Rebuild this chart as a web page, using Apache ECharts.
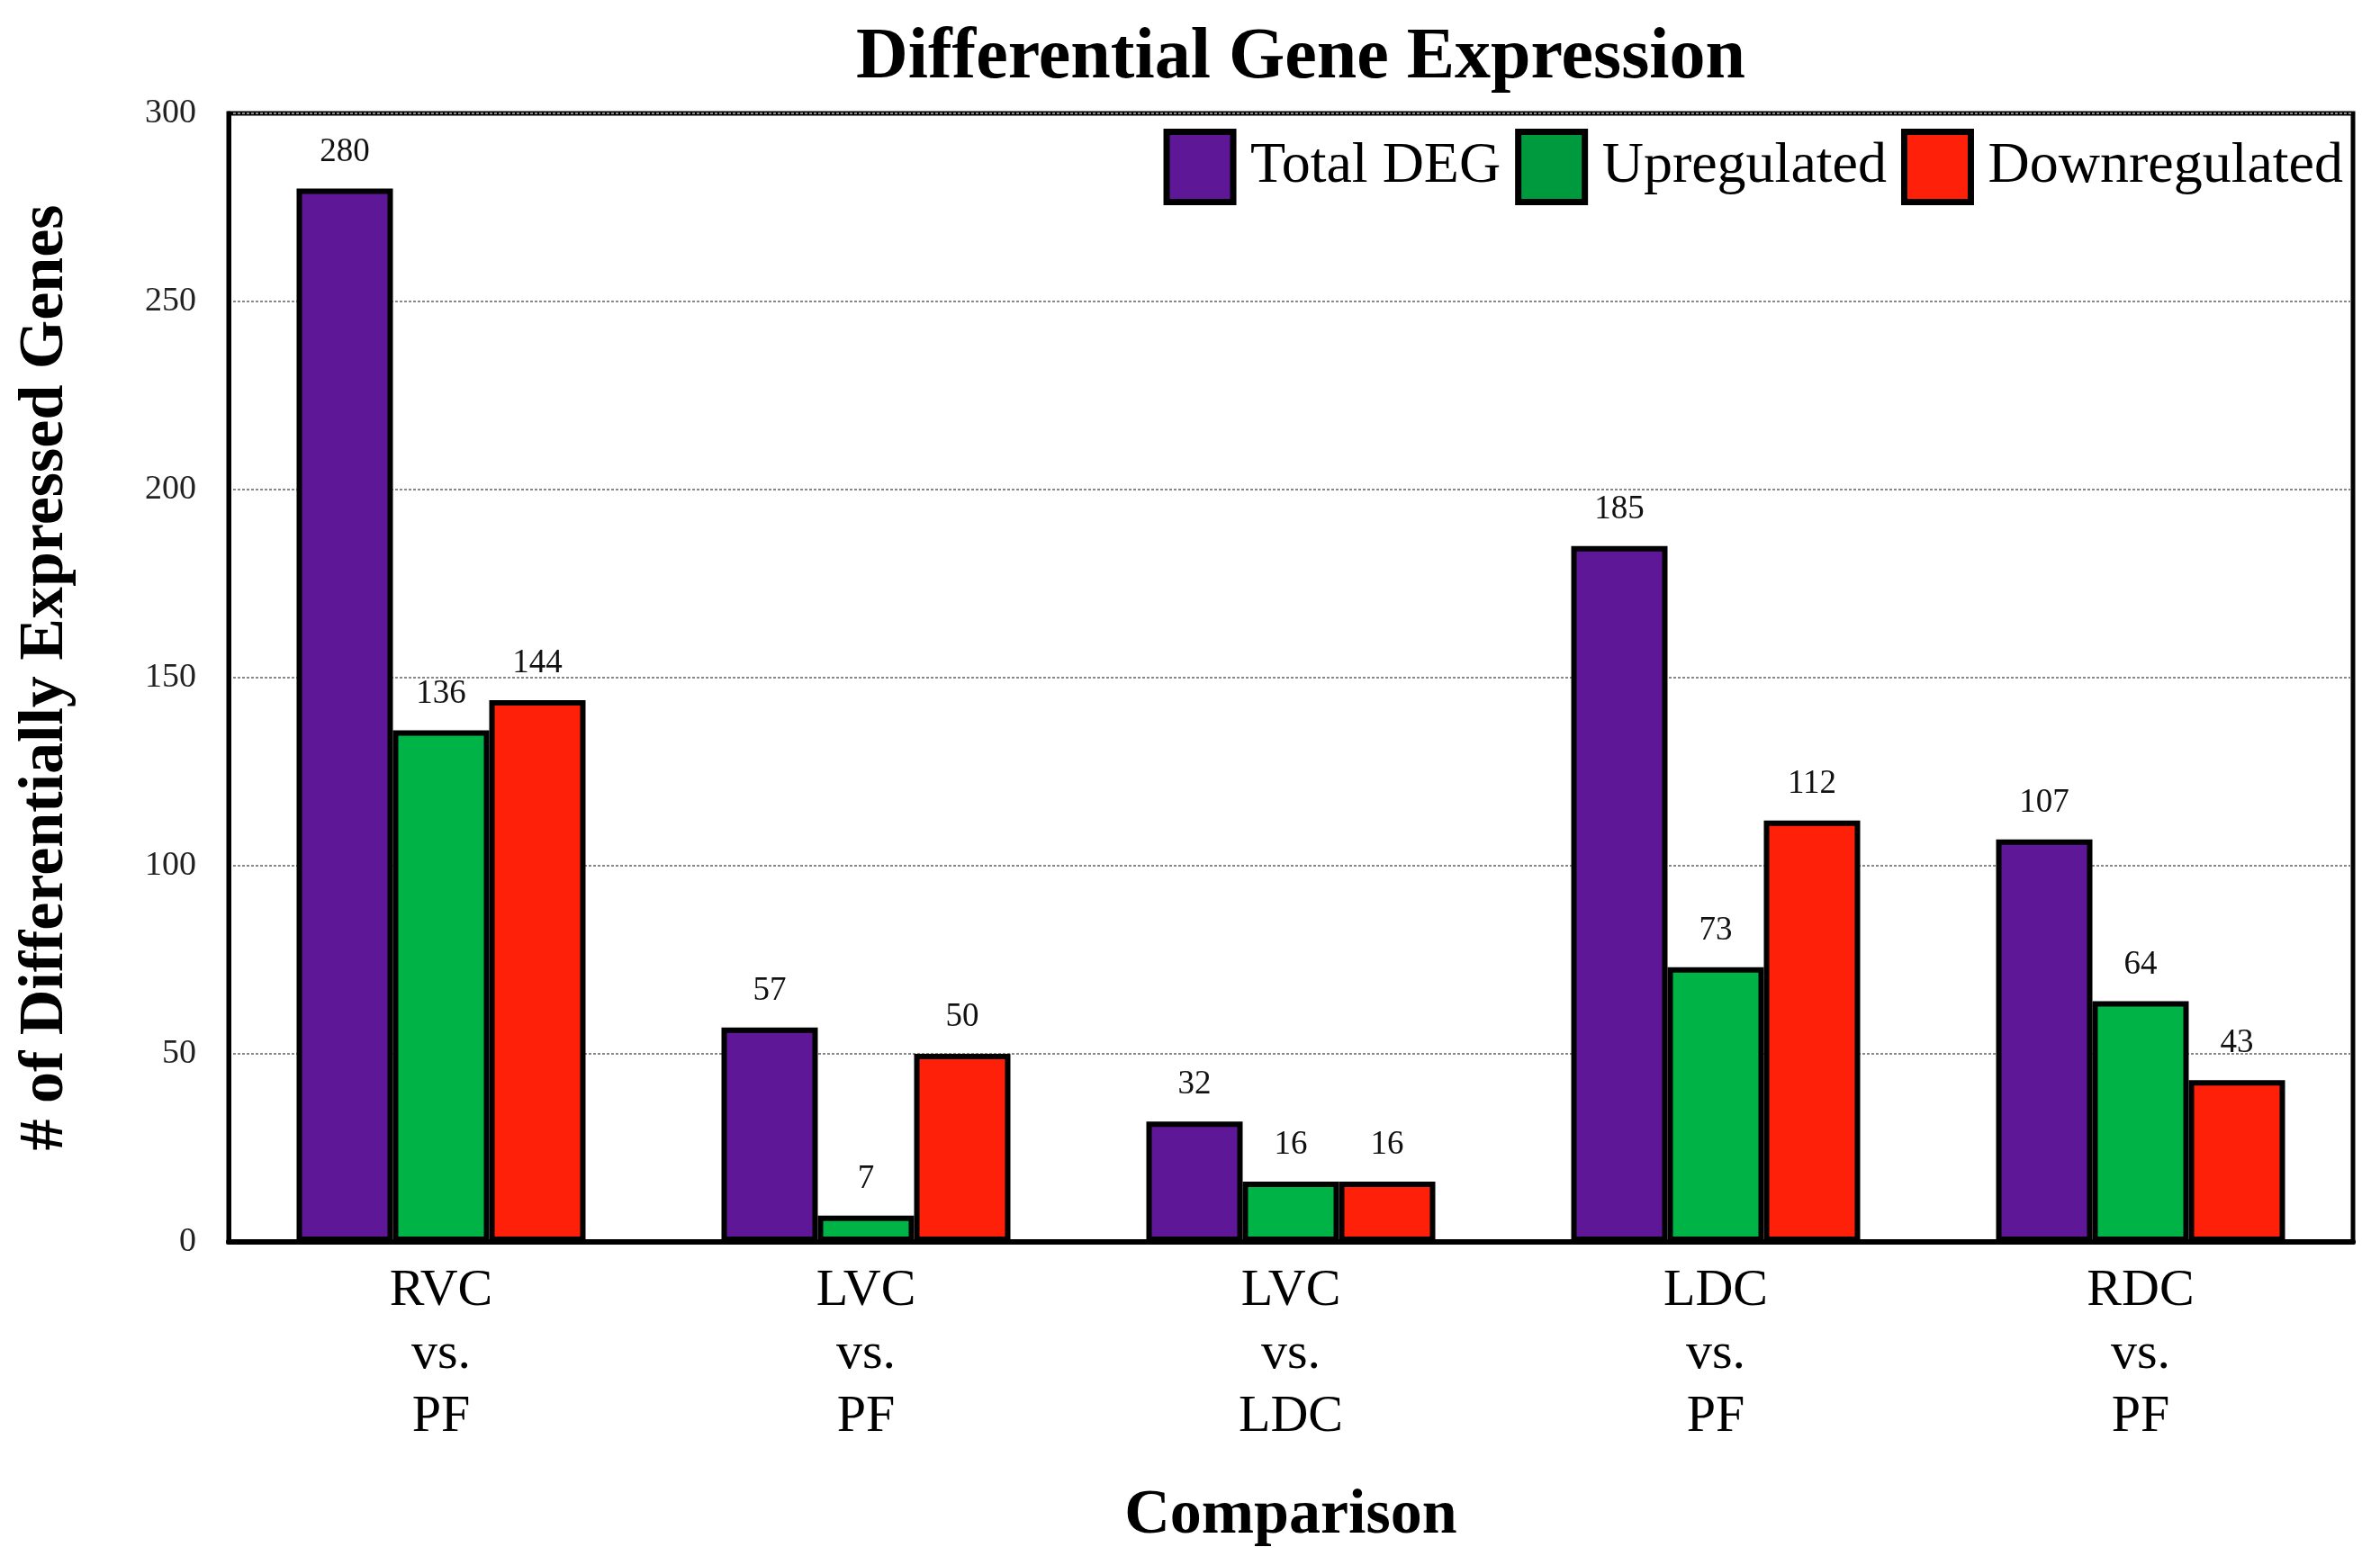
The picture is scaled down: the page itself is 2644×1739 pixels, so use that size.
<!DOCTYPE html>
<html>
<head>
<meta charset="utf-8">
<script src="https://cdn.jsdelivr.net/npm/echarts@6/dist/echarts.min.js"></script>
<style>
html,body{margin:0;padding:0;background:#fff;}
#chart{width:2644px;height:1739px;}
</style>
</head>
<body>
<div id="chart"></div>
<script>
var categories = ['RVC\nvs.\nPF', 'LVC\nvs.\nPF', 'LVC\nvs.\nLDC', 'LDC\nvs.\nPF', 'RDC\nvs.\nPF'];
var seriesNames = ['Total DEG', 'Upregulated', 'Downregulated'];
var totalDEG = [280, 57, 32, 185, 107];
var upregulated = [136, 7, 16, 73, 64];
var downregulated = [144, 50, 16, 112, 43];
var yTicks = [0, 50, 100, 150, 200, 250, 300];

var FONT = '"Liberation Serif", "DejaVu Serif", serif';
var barColors = ['#5E1796', '#00B347', '#FF200A'];
var legendColors = ['#5E1796', '#009A3E', '#FF200A'];

var chart = echarts.init(document.getElementById('chart'), null, {renderer: 'canvas'});

function makeSeries(name, data, color) {
  return {
    name: name,
    type: 'bar',
    data: data,
    barWidth: 107,
    barGap: '0%',
    itemStyle: {color: color, borderColor: '#000', borderWidth: 6},
    label: {
      show: true,
      position: 'top',
      distance: 22,
      fontFamily: FONT,
      fontSize: 37,
      color: '#111'
    },
    z: 3
  };
}

var option = {
  backgroundColor: '#fff',
  animation: false,
  title: {
    text: 'Differential Gene Expression',
    left: 1440,
    top: 20,
    textAlign: 'center',
    textStyle: {fontFamily: FONT, fontSize: 80, fontWeight: 'bold', color: '#000'}
  },
  legend: {
    right: 36,
    top: 138,
    itemWidth: 74,
    itemHeight: 78,
    itemGap: 16,
    icon: 'rect',
    data: seriesNames.map(function (n, i) {
      return {name: n, itemStyle: {color: legendColors[i], borderColor: '#000', borderWidth: 7}};
    }),
    textStyle: {fontFamily: FONT, fontSize: 64, color: '#000', padding: [0, 0, 0, 14]}
  },
  grid: {
    left: 254,
    right: 30,
    top: 126,
    bottom: 359,
    show: true,
    borderColor: '#000',
    borderWidth: 5,
    containLabel: false
  },
  xAxis: {
    type: 'category',
    data: categories,
    axisLine: {show: true, lineStyle: {color: '#000', width: 6}},
    axisTick: {show: false},
    axisLabel: {fontFamily: FONT, fontSize: 58, lineHeight: 70, color: '#000', margin: 20},
    name: 'Comparison',
    nameLocation: 'middle',
    nameGap: 270,
    nameTextStyle: {fontFamily: FONT, fontSize: 70, fontWeight: 'bold', color: '#000'}
  },
  yAxis: {
    type: 'value',
    min: yTicks[0],
    max: yTicks[yTicks.length - 1],
    interval: 50,
    axisLine: {show: true, lineStyle: {color: '#000', width: 5}},
    axisTick: {show: false},
    axisLabel: {fontFamily: FONT, fontSize: 38, color: '#222', margin: 36},
    splitLine: {show: true, lineStyle: {color: '#888', width: 2, type: [3, 2]}},
    name: '# of Differentially Expressed Genes',
    nameLocation: 'middle',
    nameGap: 168,
    nameTextStyle: {fontFamily: FONT, fontSize: 70, fontWeight: 'bold', color: '#000'}
  },
  series: [
    makeSeries(seriesNames[0], totalDEG, barColors[0]),
    makeSeries(seriesNames[1], upregulated, barColors[1]),
    makeSeries(seriesNames[2], downregulated, barColors[2])
  ]
};
chart.setOption(option);
</script>
</body>
</html>
